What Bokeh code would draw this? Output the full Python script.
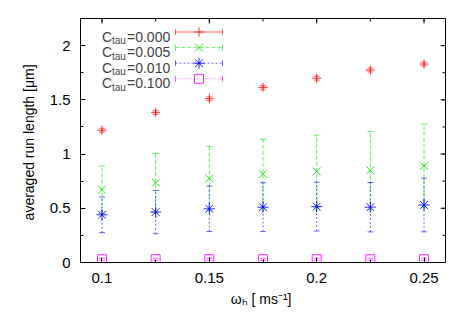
from bokeh.plotting import figure
from bokeh.models import ColumnDataSource, Whisker, TeeHead, Label, Range1d, FixedTicker
from bokeh.embed import file_html
from bokeh.resources import INLINE

# ---- data ----
omega = [0.1, 0.125, 0.15, 0.175, 0.2, 0.225, 0.25]
run_000 = [1.22, 1.385, 1.51, 1.615, 1.70, 1.775, 1.83]
err_000 = [0.018, 0.018, 0.018, 0.018, 0.018, 0.018, 0.018]
run_005 = [0.67, 0.735, 0.775, 0.815, 0.84, 0.85, 0.89]
err_005 = [0.22, 0.27, 0.295, 0.32, 0.335, 0.36, 0.385]
run_010 = [0.44, 0.465, 0.495, 0.51, 0.515, 0.51, 0.53]
err_010 = [0.165, 0.2, 0.21, 0.225, 0.225, 0.228, 0.247]
run_100 = [0.03, 0.03, 0.03, 0.03, 0.03, 0.03, 0.03]
err_100 = [0.01, 0.01, 0.01, 0.01, 0.01, 0.01, 0.01]

ctau_labels = ["=0.000", "=0.005", "=0.010", "=0.100"]
xticks = [0.1, 0.15, 0.2, 0.25]
xtick_labels = ["0.1", "0.15", "0.2", "0.25"]
xminor = [0.1, 0.125, 0.15, 0.175, 0.2, 0.225, 0.25]
yticks = [0, 0.5, 1, 1.5, 2]
ytick_labels = ["0", "0.5", "1", "1.5", "2"]
yminor = [0.25, 0.5, 0.75, 1.0, 1.25, 1.5, 1.75, 2.0, 2.25]

X0, X1, Y0, Y1 = 0.09, 0.26, 0.0, 2.25
W, H = 453, 312
BL, BR, BT, BB = 80, 8, 18, 50
FW, FH = W - BL - BR, H - BT - BB
FONT = "Liberation Sans"

series = [
    (run_000, err_000, "#ff0000", "solid", "cross", 9),
    (run_005, err_005, "#00dd00", "4 2", "x", 11),
    (run_010, err_010, "#0000ff", "2 2", "asterisk", 11),
    (run_100, err_100, "#ff00ff", "1 2", "square", 9),
]

p = figure(width=W, height=H, x_range=Range1d(X0, X1),
           y_range=Range1d(Y0, Y1), output_backend="svg", toolbar_location=None,
           min_border_left=BL, min_border_right=BR, min_border_top=BT,
           min_border_bottom=BB)
p.xgrid.visible = False
p.ygrid.visible = False
p.outline_line_color = "black"
p.outline_line_width = 1

def style_axis(ax, ticks, minor, overrides):
    ax.ticker = FixedTicker(ticks=ticks, minor_ticks=minor)
    ax.major_tick_in = 5
    ax.major_tick_out = 0
    ax.minor_tick_in = 3
    ax.minor_tick_out = 0
    ax.major_tick_line_color = "black"
    ax.minor_tick_line_color = "black"
    ax.axis_line_color = "black"
    ax.major_label_text_font = FONT
    ax.major_label_text_font_size = "15px"
    ax.major_label_text_color = "black"
    ax.major_label_standoff = 10
    ax.major_label_overrides = overrides
    ax.axis_label_text_font = FONT
    ax.axis_label_text_font_size = "14px"
    ax.axis_label_text_font_style = "normal"
    ax.axis_label_text_color = "black"

style_axis(p.xaxis[0], xticks, xminor, dict(zip(xticks, xtick_labels)))
style_axis(p.yaxis[0], yticks, yminor, dict(zip(yticks, ytick_labels)))
p.yaxis[0].axis_label = "averaged run length  [\u03bcm]"
p.yaxis[0].axis_label_standoff = 10
p.xaxis[0].axis_label = "\u03c9\u2095  [ ms\u207b\u00b9]"
p.xaxis[0].axis_label_standoff = 5

# ---- mirror ticks on top and right (inward) ----
tx = 5 * (X1 - X0) / FW
ty = 5 * (Y1 - Y0) / FH
mx = 3 * (X1 - X0) / FW
my = 3 * (Y1 - Y0) / FH
p.segment(x0=xticks, y0=[Y1] * len(xticks), x1=xticks, y1=[Y1 - ty] * len(xticks),
          line_color="black", line_width=1)
p.segment(x0=xminor, y0=[Y1] * len(xminor), x1=xminor, y1=[Y1 - my] * len(xminor),
          line_color="black", line_width=1)
p.segment(x0=[X1] * len(yticks), y0=yticks, x1=[X1 - tx] * len(yticks), y1=yticks,
          line_color="black", line_width=1)
p.segment(x0=[X1] * len(yminor), y0=yminor, x1=[X1 - mx] * len(yminor), y1=yminor,
          line_color="black", line_width=1)

# ---- data series ----
for run, err, col, dash, marker, msize in series:
    src = ColumnDataSource(dict(x=omega, y=run,
                                lo=[r - e for r, e in zip(run, err)],
                                hi=[r + e for r, e in zip(run, err)]))
    w = Whisker(source=src, base="x", lower="lo", upper="hi", dimension="height",
                line_color=col, line_alpha=0.6, line_width=1, line_dash=dash,
                upper_head=TeeHead(size=6, line_color=col, line_alpha=0.6),
                lower_head=TeeHead(size=6, line_color=col, line_alpha=0.6))
    p.add_layout(w)
    p.scatter("x", "y", source=src, marker=marker, size=msize, line_color=col,
              line_alpha=0.85, fill_color=None, line_width=1)

# ---- legend (drawn by hand for subscripts) ----
def dx(sx):
    return X0 + sx * (X1 - X0) / FW

def dy(sy):
    return Y0 + sy * (Y1 - Y0) / FH

for i, ((run, err, col, dash, marker, msize), lab) in enumerate(zip(series, ctau_labels)):
    base = 226 - 15.6 * i
    p.add_layout(Label(x=21.5, y=base, x_units="screen", y_units="screen", text="C",
                       text_font=FONT, text_font_size="14px", text_baseline="alphabetic"))
    p.add_layout(Label(x=31.5, y=base - 4, x_units="screen", y_units="screen", text="tau",
                       text_font=FONT, text_font_size="10px", text_baseline="alphabetic"))
    p.add_layout(Label(x=46.5, y=base, x_units="screen", y_units="screen", text=lab,
                       text_font=FONT, text_font_size="14px", text_baseline="alphabetic"))
    ly = base + 4.5
    p.segment(x0=[dx(95)], y0=[dy(ly)], x1=[dx(142)], y1=[dy(ly)], line_color=col,
              line_alpha=0.6, line_dash=dash, line_width=1)
    p.segment(x0=[dx(95), dx(142)], y0=[dy(ly - 3)] * 2, x1=[dx(95), dx(142)],
              y1=[dy(ly + 3)] * 2, line_color=col, line_alpha=0.6, line_width=1)
    p.scatter(x=[dx(118.5)], y=[dy(ly)], marker=marker, size=msize, line_color=col,
              line_alpha=0.85, fill_color=None, line_width=1)

open("out.html", "w").write(file_html(p, INLINE))
